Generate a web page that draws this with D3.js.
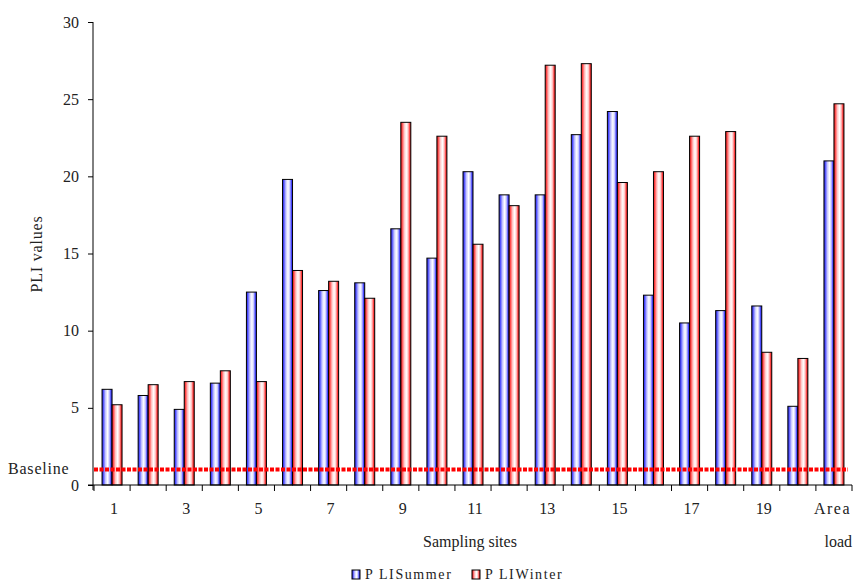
<!DOCTYPE html>
<html><head><meta charset="utf-8">
<script src="https://cdn.jsdelivr.net/npm/d3@7/dist/d3.min.js"></script>
<style>
body{margin:0;background:#fff;}
svg text{font-family:"Liberation Serif","Times New Roman",serif;}
</style></head>
<body><svg id="c" width="857" height="585"></svg>
<script>
const categories = ["1","2","3","4","5","6","7","8","9","10","11","12","13","14","15","16","17","18","19","20","Area load"];
const summer = [6.2,5.8,4.9,6.6,12.5,19.8,12.6,13.1,16.6,14.7,20.3,18.8,18.8,22.7,24.2,12.3,10.5,11.3,11.6,5.1,21.0];
const winter = [5.2,6.5,6.7,7.4,6.7,13.9,13.2,12.1,23.5,22.6,15.6,18.1,27.2,27.3,19.6,20.3,22.6,22.9,8.6,8.2,24.7];
const yTicks = [0,5,10,15,20,25,30];
const baseline = 1;
const seriesNames = ["P LISummer","P LIWinter"];

(function(){
const svg = d3.select("#c");
const pl = 94, pr = 852, pt = 22, pb = 485;
const x = d3.scaleBand().domain(categories).range([pl, pr]).paddingInner(0).paddingOuter(0);
const y = d3.scaleLinear().domain([0,30]).range([pb, pt]);
const FS = 16;

const defs = svg.append("defs");
function grad(id, dark, mid, light){
  const g = defs.append("linearGradient").attr("id", id).attr("x1","0").attr("x2","1").attr("y1","0").attr("y2","0");
  [[0,dark],[0.12,mid],[0.35,light],[0.55,"#ffffff"],[0.72,light],[0.88,mid],[1,dark]].forEach(s=>g.append("stop").attr("offset",s[0]).attr("stop-color",s[1]));
}
grad("gb","#2020c0","#4848ff","#c8c8ff");
grad("gr","#d01010","#ff4040","#ffc8c8");

const bw = 10;
[summer, winter].forEach((vals, si) => {
  svg.append("g").selectAll("rect").data(vals).join("rect")
    .attr("x", (d,i) => x(categories[i]) + x.bandwidth()/2 - bw + si*bw)
    .attr("y", d => y(d))
    .attr("width", bw)
    .attr("height", d => y(0) - y(d))
    .attr("fill", si === 0 ? "url(#gb)" : "url(#gr)")
    .attr("stroke", "#000").attr("stroke-width", 1);
});

svg.append("line").attr("x1", pl).attr("x2", 848).attr("y1", y(baseline)).attr("y2", y(baseline))
  .attr("stroke", "#ff0000").attr("stroke-width", 4).attr("stroke-dasharray", "4,1.5");

const yAxis = d3.axisLeft(y).tickValues(yTicks).tickSize(5).tickPadding(9);
const gy = svg.append("g").attr("transform", `translate(${pl-1},0)`).call(yAxis);
gy.select(".domain").attr("d", `M0,${pt}V${pb+5}`);
gy.selectAll("text").attr("font-size", FS).attr("fill", "#222").attr("font-family", "Liberation Serif");
gy.selectAll("line").attr("stroke", "#000");

svg.append("line").attr("x1", pl-6).attr("x2", pr).attr("y1", pb).attr("y2", pb).attr("stroke","#000");
const bounds = categories.map(c => x(c)).concat([pr]);
svg.append("g").selectAll("line").data(bounds).join("line")
  .attr("x1", d=>d).attr("x2", d=>d).attr("y1", pb).attr("y2", pb+6).attr("stroke","#000");
const xl = svg.append("g").attr("font-size", FS).attr("fill", "#222").attr("text-anchor","middle");
categories.forEach((c, i) => {
  if (i % 2 === 0 && i < 20) {
    xl.append("text").attr("x", x(c) + x.bandwidth()/2 + 2).attr("y", 514).text(c);
  }
});
const lastWords = categories[20].split(" ");
xl.append("text").attr("x", 851).attr("y", 514).attr("text-anchor","end").attr("letter-spacing", 1.5).text(lastWords[0]);
xl.append("text").attr("x", 852).attr("y", 547).attr("text-anchor","end").text(lastWords[1]);

svg.append("text").attr("x", 470).attr("y", 547).attr("text-anchor","middle").attr("font-size", FS).attr("fill","#222").text("Sampling sites");
svg.append("text").attr("transform", `translate(42,254) rotate(-90)`).attr("text-anchor","middle").attr("font-size", FS).attr("letter-spacing", 0.8).attr("fill","#222").text("PLI values");
svg.append("text").attr("x", 8).attr("y", 474).attr("font-size", FS).attr("letter-spacing", 0.8).attr("fill","#222").text("Baseline");

const lg = svg.append("g");
const lx = [352, 472];
seriesNames.forEach((n, i) => {
  lg.append("rect").attr("x", lx[i]).attr("y", 570).attr("width", 8).attr("height", 9)
    .attr("fill", i === 0 ? "url(#gb)" : "url(#gr)").attr("stroke","#000").attr("stroke-width",1);
  lg.append("text").attr("x", lx[i] + 13).attr("y", 579).attr("font-size", 14).attr("fill","#222").attr("letter-spacing", 1.6).text(n);
});
})();
</script></body></html>
